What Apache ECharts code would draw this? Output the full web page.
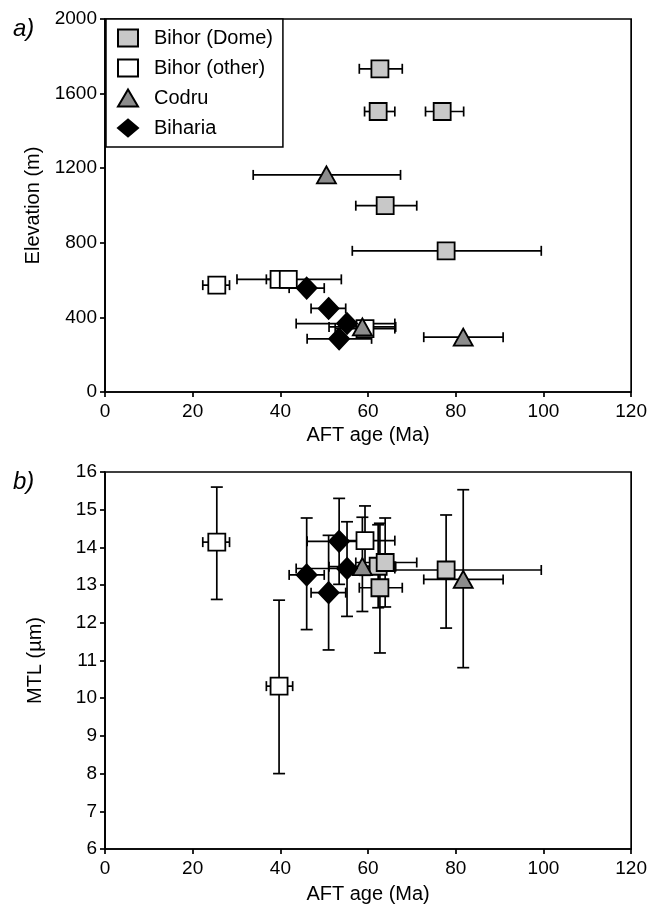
<!DOCTYPE html>
<html><head><meta charset="utf-8">
<script src="https://cdn.jsdelivr.net/npm/echarts@6/dist/echarts.min.js"></script>
<style>html,body{margin:0;padding:0;background:#fff}#c{width:650px;height:905px}</style>
</head><body><div id="c"></div>
<script>
// ---- Data ----
const groupNames = ['Bihor (Dome)', 'Bihor (other)', 'Codru', 'Biharia'];

const domeAge   = [62.7, 62.3, 76.9, 63.9, 77.8];
const domeAgeLo = [58.0, 59.2, 73.1, 57.2, 56.4];
const domeAgeHi = [67.8, 66.1, 81.8, 71.1, 99.5];
const domeElev  = [1733, 1504, 1504, 999, 757];
const domeMtl   = [12.93, 13.5, null, 13.60, 13.40];
const domeMtlLo = [11.2, 12.4, null, 12.42, 11.86];
const domeMtlHi = [14.64, 14.6, null, 14.78, 14.86];

const otherAge   = [25.5, 39.7, 41.8, 59.3];
const otherAgeLo = [22.3, 36.8, 30.1, 52.5];
const otherAgeHi = [28.4, 42.8, 53.9, 66.1];
const otherElev  = [573, 604, 604, 340];
const otherMtl   = [14.14, 10.32, null, 14.18];
const otherMtlLo = [12.62, 8.0, null, 13.26];
const otherMtlHi = [15.6, 12.6, null, 15.1];

const codruAge   = [50.5, 58.7, 81.7];
const codruAgeLo = [33.8, 51.1, 72.7];
const codruAgeHi = [67.4, 66.3, 90.8];
const codruElev  = [1164, 349, 294];
const codruMtl   = [null, 13.49, 13.15];
const codruMtlLo = [null, 12.3, 10.81];
const codruMtlHi = [null, 14.8, 15.53];

const bihAge   = [46.0, 51.0, 55.2, 53.4];
const bihAgeLo = [42.0, 47.0, 43.6, 46.1];
const bihAgeHi = [50.0, 54.9, 66.1, 60.8];
const bihElev  = [557, 448, 367, 285];
const bihMtl   = [13.27, 12.80, 13.44, 14.16];
const bihMtlLo = [11.82, 11.28, 12.17, 13.02];
const bihMtlHi = [14.78, 14.32, 14.68, 15.30];

const xTicks = [0, 20, 40, 60, 80, 100, 120];
const elevTicks = [0, 400, 800, 1200, 1600, 2000];
const mtlTicks = [6, 7, 8, 9, 10, 11, 12, 13, 14, 15, 16];

// ---- Styles ----
const FONT = 'Liberation Sans, Arial, sans-serif';
const groups = [
  {name: groupNames[0], age: domeAge, lo: domeAgeLo, hi: domeAgeHi, elev: domeElev, mtl: domeMtl, mlo: domeMtlLo, mhi: domeMtlHi,
   symbol: 'rect', size: [17, 17], color: '#c8c8c8'},
  {name: groupNames[1], age: otherAge, lo: otherAgeLo, hi: otherAgeHi, elev: otherElev, mtl: otherMtl, mlo: otherMtlLo, mhi: otherMtlHi,
   symbol: 'rect', size: [17, 17], color: '#ffffff'},
  {name: groupNames[2], age: codruAge, lo: codruAgeLo, hi: codruAgeHi, elev: codruElev, mtl: codruMtl, mlo: codruMtlLo, mhi: codruMtlHi,
   symbol: 'triangle', size: [19, 17], color: '#8c8c8c'},
  {name: groupNames[3], age: bihAge, lo: bihAgeLo, hi: bihAgeHi, elev: bihElev, mtl: bihMtl, mlo: bihMtlLo, mhi: bihMtlHi,
   symbol: 'diamond', size: [20, 21], color: '#000000'}
];

const LS = {stroke: '#000', lineWidth: 1.7};
function xErr(params, api) {
  const y = api.value(1), lo = api.value(2), hi = api.value(3);
  const a = api.coord([lo, y]), b = api.coord([hi, y]);
  const c = 5;
  return {type: 'group', children: [
    {type: 'line', shape: {x1: a[0], y1: a[1], x2: b[0], y2: b[1]}, style: LS},
    {type: 'line', shape: {x1: a[0], y1: a[1] - c, x2: a[0], y2: a[1] + c}, style: LS},
    {type: 'line', shape: {x1: b[0], y1: b[1] - c, x2: b[0], y2: b[1] + c}, style: LS}
  ]};
}
function yErr(params, api) {
  const x = api.value(0), lo = api.value(2), hi = api.value(3);
  const a = api.coord([x, lo]), b = api.coord([x, hi]);
  const c = 6;
  return {type: 'group', children: [
    {type: 'line', shape: {x1: a[0], y1: a[1], x2: b[0], y2: b[1]}, style: LS},
    {type: 'line', shape: {x1: a[0] - c, y1: a[1], x2: a[0] + c, y2: a[1]}, style: LS},
    {type: 'line', shape: {x1: b[0] - c, y1: b[1], x2: b[0] + c, y2: b[1]}, style: LS}
  ]};
}

const series = [];
// error bars first (underneath)
groups.forEach(g => {
  series.push({type: 'custom', xAxisIndex: 0, yAxisIndex: 0, renderItem: xErr, silent: true, z: 1,
    encode: {x: [0, 2, 3], y: 1},
    data: g.age.map((a, i) => [a, g.elev[i], g.lo[i], g.hi[i]])});
  const idx = g.mtl.map((m, i) => i).filter(i => g.mtl[i] != null);
  series.push({type: 'custom', xAxisIndex: 1, yAxisIndex: 1, renderItem: xErr, silent: true, z: 1,
    encode: {x: [0, 2, 3], y: 1},
    data: idx.map(i => [g.age[i], g.mtl[i], g.lo[i], g.hi[i]])});
  series.push({type: 'custom', xAxisIndex: 1, yAxisIndex: 1, renderItem: yErr, silent: true, z: 1,
    encode: {x: 0, y: [1, 2, 3]},
    data: idx.map(i => [g.age[i], g.mtl[i], g.mlo[i], g.mhi[i]])});
});
groups.forEach(g => {
  const st = {color: g.color, borderColor: '#000', borderWidth: 1.8, opacity: 1};
  series.push({type: 'scatter', name: g.name, xAxisIndex: 0, yAxisIndex: 0, z: 3,
    symbol: g.symbol, symbolSize: g.size, itemStyle: st, emphasis: {disabled: true},
    data: g.age.map((a, i) => [a, g.elev[i]])});
  const idx = g.mtl.map((m, i) => i).filter(i => g.mtl[i] != null);
  series.push({type: 'scatter', name: g.name, xAxisIndex: 1, yAxisIndex: 1, z: 3,
    symbol: g.symbol, symbolSize: g.size, itemStyle: st, emphasis: {disabled: true},
    data: idx.map(i => [g.age[i], g.mtl[i]])});
});

function xAxis(gi, gap) {
  return {type: 'value', gridIndex: gi, min: xTicks[0], max: xTicks[xTicks.length - 1], interval: xTicks[1] - xTicks[0],
    name: 'AFT age (Ma)', nameLocation: 'middle', nameGap: gap,
    nameTextStyle: {fontFamily: FONT, fontSize: 20, color: '#000'},
    axisLine: {show: true, onZero: false, lineStyle: {color: '#000', width: 1.7}},
    axisTick: {show: true, inside: false, length: 5, lineStyle: {color: '#000', width: 1.7}},
    axisLabel: {fontFamily: FONT, fontSize: 19, color: '#000', margin: 10, formatter: v => String(v)},
    splitLine: {show: false}};
}
function yAxis(gi, ticks, name) {
  return {type: 'value', gridIndex: gi, min: ticks[0], max: ticks[ticks.length - 1], interval: ticks[1] - ticks[0],
    name: name, nameLocation: 'middle', nameGap: 60, nameRotate: 90,
    nameTextStyle: {fontFamily: FONT, fontSize: 20, color: '#000'},
    axisLine: {show: true, onZero: false, lineStyle: {color: '#000', width: 1.7}},
    axisTick: {show: true, inside: false, length: 5, lineStyle: {color: '#000', width: 1.7}},
    axisLabel: {fontFamily: FONT, fontSize: 19, color: '#000', margin: 8, formatter: v => String(v)},
    splitLine: {show: false}};
}

const chart = echarts.init(document.getElementById('c'), null, {renderer: 'canvas'});
chart.setOption({
  animation: false,
  backgroundColor: '#fff',
  grid: [
    {left: 105, top: 19, width: 527, height: 373, show: true, borderColor: '#000', borderWidth: 1.7, backgroundColor: 'transparent'},
    {left: 105, top: 472, width: 527, height: 377, show: true, borderColor: '#000', borderWidth: 1.7, backgroundColor: 'transparent'}
  ],
  xAxis: [xAxis(0, 33), xAxis(1, 35)],
  yAxis: [yAxis(0, elevTicks, 'Elevation (m)'), yAxis(1, mtlTicks, 'MTL (µm)')],
  legend: {
    data: groupNames, orient: 'vertical', left: 106, top: 19,
    backgroundColor: '#fff', borderColor: '#000', borderWidth: 1.5,
    padding: [9, 10, 9, 11], itemWidth: 20, itemHeight: 17, itemGap: 10,
    selectedMode: false,
    textStyle: {fontFamily: FONT, fontSize: 20, color: '#000', padding: [0, 0, 0, 11]}
  },
  title: [
    {text: 'a)', left: 8, top: 12, textStyle: {fontFamily: FONT, fontSize: 24, fontStyle: 'italic', fontWeight: 'normal', color: '#000'}},
    {text: 'b)', left: 8, top: 465, textStyle: {fontFamily: FONT, fontSize: 24, fontStyle: 'italic', fontWeight: 'normal', color: '#000'}}
  ],
  series: series
});
</script></body></html>
